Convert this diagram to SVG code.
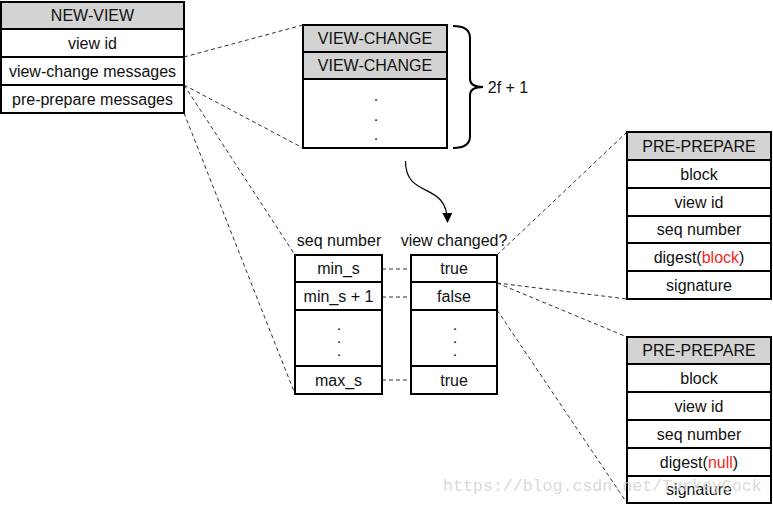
<svg xmlns="http://www.w3.org/2000/svg" width="773" height="506" viewBox="0 0 773 506">
<defs>
<style>
text{font-family:"Liberation Sans",Arial,sans-serif;font-size:16px;fill:#111;text-anchor:middle}
.box{fill:#fff;stroke:#000;stroke-width:2}
.hdr{fill:#d3d3d3;stroke:#000;stroke-width:2}
.dash{fill:none;stroke:#333;stroke-width:1;stroke-dasharray:4 3}
.red{fill:#f5281b}
.dot{font-size:11px;font-weight:bold}
.wm{font-family:"Liberation Mono","Courier New",monospace;font-size:16.6px;fill:#d6d6d6;text-anchor:start;opacity:0.9}
</style>
<marker id="ah" viewBox="0 0 10 10" refX="9" refY="5" markerWidth="10" markerHeight="10" markerUnits="userSpaceOnUse" orient="auto">
<path d="M0,0 L10,5 L0,10 Z" fill="#000"/>
</marker>
</defs>

<g id="connectors">
<line class="dash" x1="184" y1="57" x2="303" y2="25"/>
<line class="dash" x1="184" y1="85" x2="303" y2="148"/>
<line class="dash" x1="184" y1="85" x2="295" y2="255"/>
<line class="dash" x1="184" y1="113" x2="295" y2="394"/>
<line class="dash" x1="382" y1="269" x2="411" y2="269"/>
<line class="dash" x1="382" y1="297" x2="411" y2="297"/>
<line class="dash" x1="382" y1="380" x2="411" y2="380"/>
<line class="dash" x1="497" y1="255" x2="627" y2="132"/>
<line class="dash" x1="497" y1="283" x2="627" y2="299"/>
<line class="dash" x1="497" y1="283" x2="627" y2="337"/>
<line class="dash" x1="497" y1="310" x2="627" y2="503"/>
<path d="M405.5,161 C405.5,200 447,180 447.5,222" fill="none" stroke="#000" stroke-width="1.2" marker-end="url(#ah)"/>
<path d="M453,26 Q470,26 470,38 L470,79 Q470,87 483,87 Q470,87 470,95 L470,136 Q470,148 453,148" fill="none" stroke="#000" stroke-width="2"/>
</g>

<g id="new-view">
<rect class="hdr" x="1" y="2" width="183" height="27"/>
<rect class="box" x="1" y="29" width="183" height="28"/>
<rect class="box" x="1" y="57" width="183" height="28"/>
<rect class="box" x="1" y="85" width="183" height="28"/>
<text x="92.5" y="21">NEW-VIEW</text>
<text x="92.5" y="49">view id</text>
<text x="92.5" y="77">view-change messages</text>
<text x="92.5" y="105">pre-prepare messages</text>
</g>

<g id="view-change">
<rect class="hdr" x="303" y="25" width="144" height="27"/>
<rect class="hdr" x="303" y="52" width="144" height="27"/>
<rect class="box" x="303" y="79" width="144" height="69"/>
<text x="375" y="44">VIEW-CHANGE</text>
<text x="375" y="71">VIEW-CHANGE</text>
<text class="dot" x="376" y="101">.</text>
<text class="dot" x="376" y="121">.</text>
<text class="dot" x="376" y="140">.</text>
</g>

<g id="quorum-label">
<text x="508" y="93">2f + 1</text>
</g>

<g id="seq-table">
<text x="339" y="246">seq number</text>
<rect class="box" x="295" y="255" width="87" height="27"/>
<rect class="box" x="295" y="282" width="87" height="28"/>
<rect class="box" x="295" y="310" width="87" height="56"/>
<rect class="box" x="295" y="366" width="87" height="28"/>
<text x="338.5" y="274">min_s</text>
<text x="338.5" y="302">min_s + 1</text>
<text class="dot" x="339" y="330">.</text>
<text class="dot" x="339" y="343">.</text>
<text class="dot" x="339" y="356">.</text>
<text x="338.5" y="386">max_s</text>
</g>

<g id="changed-table">
<text x="454" y="246">view changed?</text>
<rect class="box" x="411" y="255" width="86" height="27"/>
<rect class="box" x="411" y="282" width="86" height="28"/>
<rect class="box" x="411" y="310" width="86" height="56"/>
<rect class="box" x="411" y="366" width="86" height="28"/>
<text x="454" y="274">true</text>
<text x="454" y="302">false</text>
<text class="dot" x="455" y="330">.</text>
<text class="dot" x="455" y="343">.</text>
<text class="dot" x="455" y="356">.</text>
<text x="454" y="386">true</text>
</g>

<g id="pre-prepare-1">
<rect class="hdr" x="627" y="132" width="144" height="28"/>
<rect class="box" x="627" y="160" width="144" height="28"/>
<rect class="box" x="627" y="188" width="144" height="28"/>
<rect class="box" x="627" y="216" width="144" height="27"/>
<rect class="box" x="627" y="243" width="144" height="28"/>
<rect class="box" x="627" y="271" width="144" height="28"/>
<text x="699" y="152">PRE-PREPARE</text>
<text x="699" y="180">block</text>
<text x="699" y="208">view id</text>
<text x="699" y="235">seq number</text>
<text x="699" y="263">digest(<tspan class="red">block</tspan>)</text>
<text x="699" y="291">signature</text>
</g>

<g id="pre-prepare-2">
<rect class="hdr" x="627" y="337" width="144" height="27"/>
<rect class="box" x="627" y="364" width="144" height="28"/>
<rect class="box" x="627" y="392" width="144" height="28"/>
<rect class="box" x="627" y="420" width="144" height="28"/>
<rect class="box" x="627" y="448" width="144" height="28"/>
<rect class="box" x="627" y="476" width="144" height="27"/>
<text x="699" y="356">PRE-PREPARE</text>
<text x="699" y="384">block</text>
<text x="699" y="412">view id</text>
<text x="699" y="440">seq number</text>
<text x="699" y="468">digest(<tspan class="red">null</tspan>)</text>
<text x="699" y="495">signature</text>
</g>

<text class="wm" x="443" y="491">https://blog.csdn.net/TurkeyCock</text>
</svg>
